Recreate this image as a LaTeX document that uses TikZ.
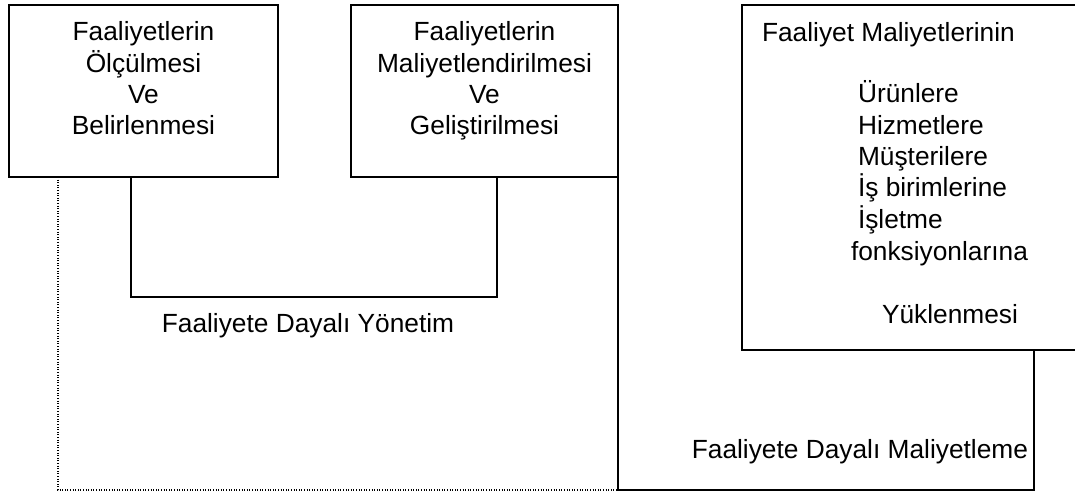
\documentclass[tikz,border=0pt]{standalone}
\usepackage{fontspec}
\setmainfont{Liberation Sans}
\usetikzlibrary{calc}
% centred stack of lines whose baseline is that of the first line
\newcommand\stackc[1]{\begin{tabular}[t]{@{}c@{}}#1\end{tabular}}
\newcommand\stackl[1]{\begin{tabular}[t]{@{}l@{}}#1\end{tabular}}
\begin{document}
\begin{tikzpicture}[x=1pt,y=-1pt,
  box/.style={draw, line width=1.4pt, inner sep=0pt, outer sep=0pt, anchor=north west},
  txt/.style={inner sep=0pt, outer sep=0pt, font=\fontsize{26.3}{31.3}\selectfont},
  wire/.style={draw, line width=1.4pt},
  dots/.style={draw, line width=1.1pt, dash pattern=on 1pt off 1.6pt}]
\useasboundingbox (0,0) rectangle (1075,494);
\fill[white] (0,0) rectangle (1075,494);

% the three boxes
\node[box, minimum width=269pt, minimum height=172pt] (b1) at (9,5) {};
\node[box, minimum width=267pt, minimum height=172pt] (b2) at (351,5) {};
\node[box, minimum width=338pt, minimum height=345pt] (b3) at (742,5) {};

% box texts
\node[txt, anchor=base] (t1) at (143.5,41) {\stackc{Faaliyetlerin\\Ölçülmesi\\Ve\\Belirlenmesi}};
\node[txt, anchor=base] (t2) at (484.5,41) {\stackc{Faaliyetlerin\\Maliyetlendirilmesi\\Ve\\Geliştirilmesi}};
\node[txt, anchor=base west] (t3) at (762,42) {Faaliyet Maliyetlerinin};
\node[txt, anchor=base west] (t4) at (858,103) {\stackl{Ürünlere\\Hizmetlere\\Müşterilere\\\smash{İş birimlerine}\\\smash{İşletme}}};
\node[txt, anchor=base west] (t5) at (851,260) {fonksiyonlarına};
\node[txt, anchor=base west] (t6) at (882,323) {Yüklenmesi};

% group labels
\node[txt, anchor=base] (l1) at (308,332) {Faaliyete Dayalı Yönetim};
\node[txt, anchor=base east] (l2) at (1028,458) {Faaliyete Dayalı Maliyetleme};

% connectors
\coordinate (c1) at (618,490);
\draw[wire] ($(b1.south west)+(122,0)$) -- ++(0,120) -| ($(b2.south west)+(146,0)$);
\draw[dots] ($(b1.south west)+(49,0)$) |- (c1);
\draw[wire] (b2.south east) -- (c1) -| ($(b3.south west)+(292,0)$);
\end{tikzpicture}
\end{document}
